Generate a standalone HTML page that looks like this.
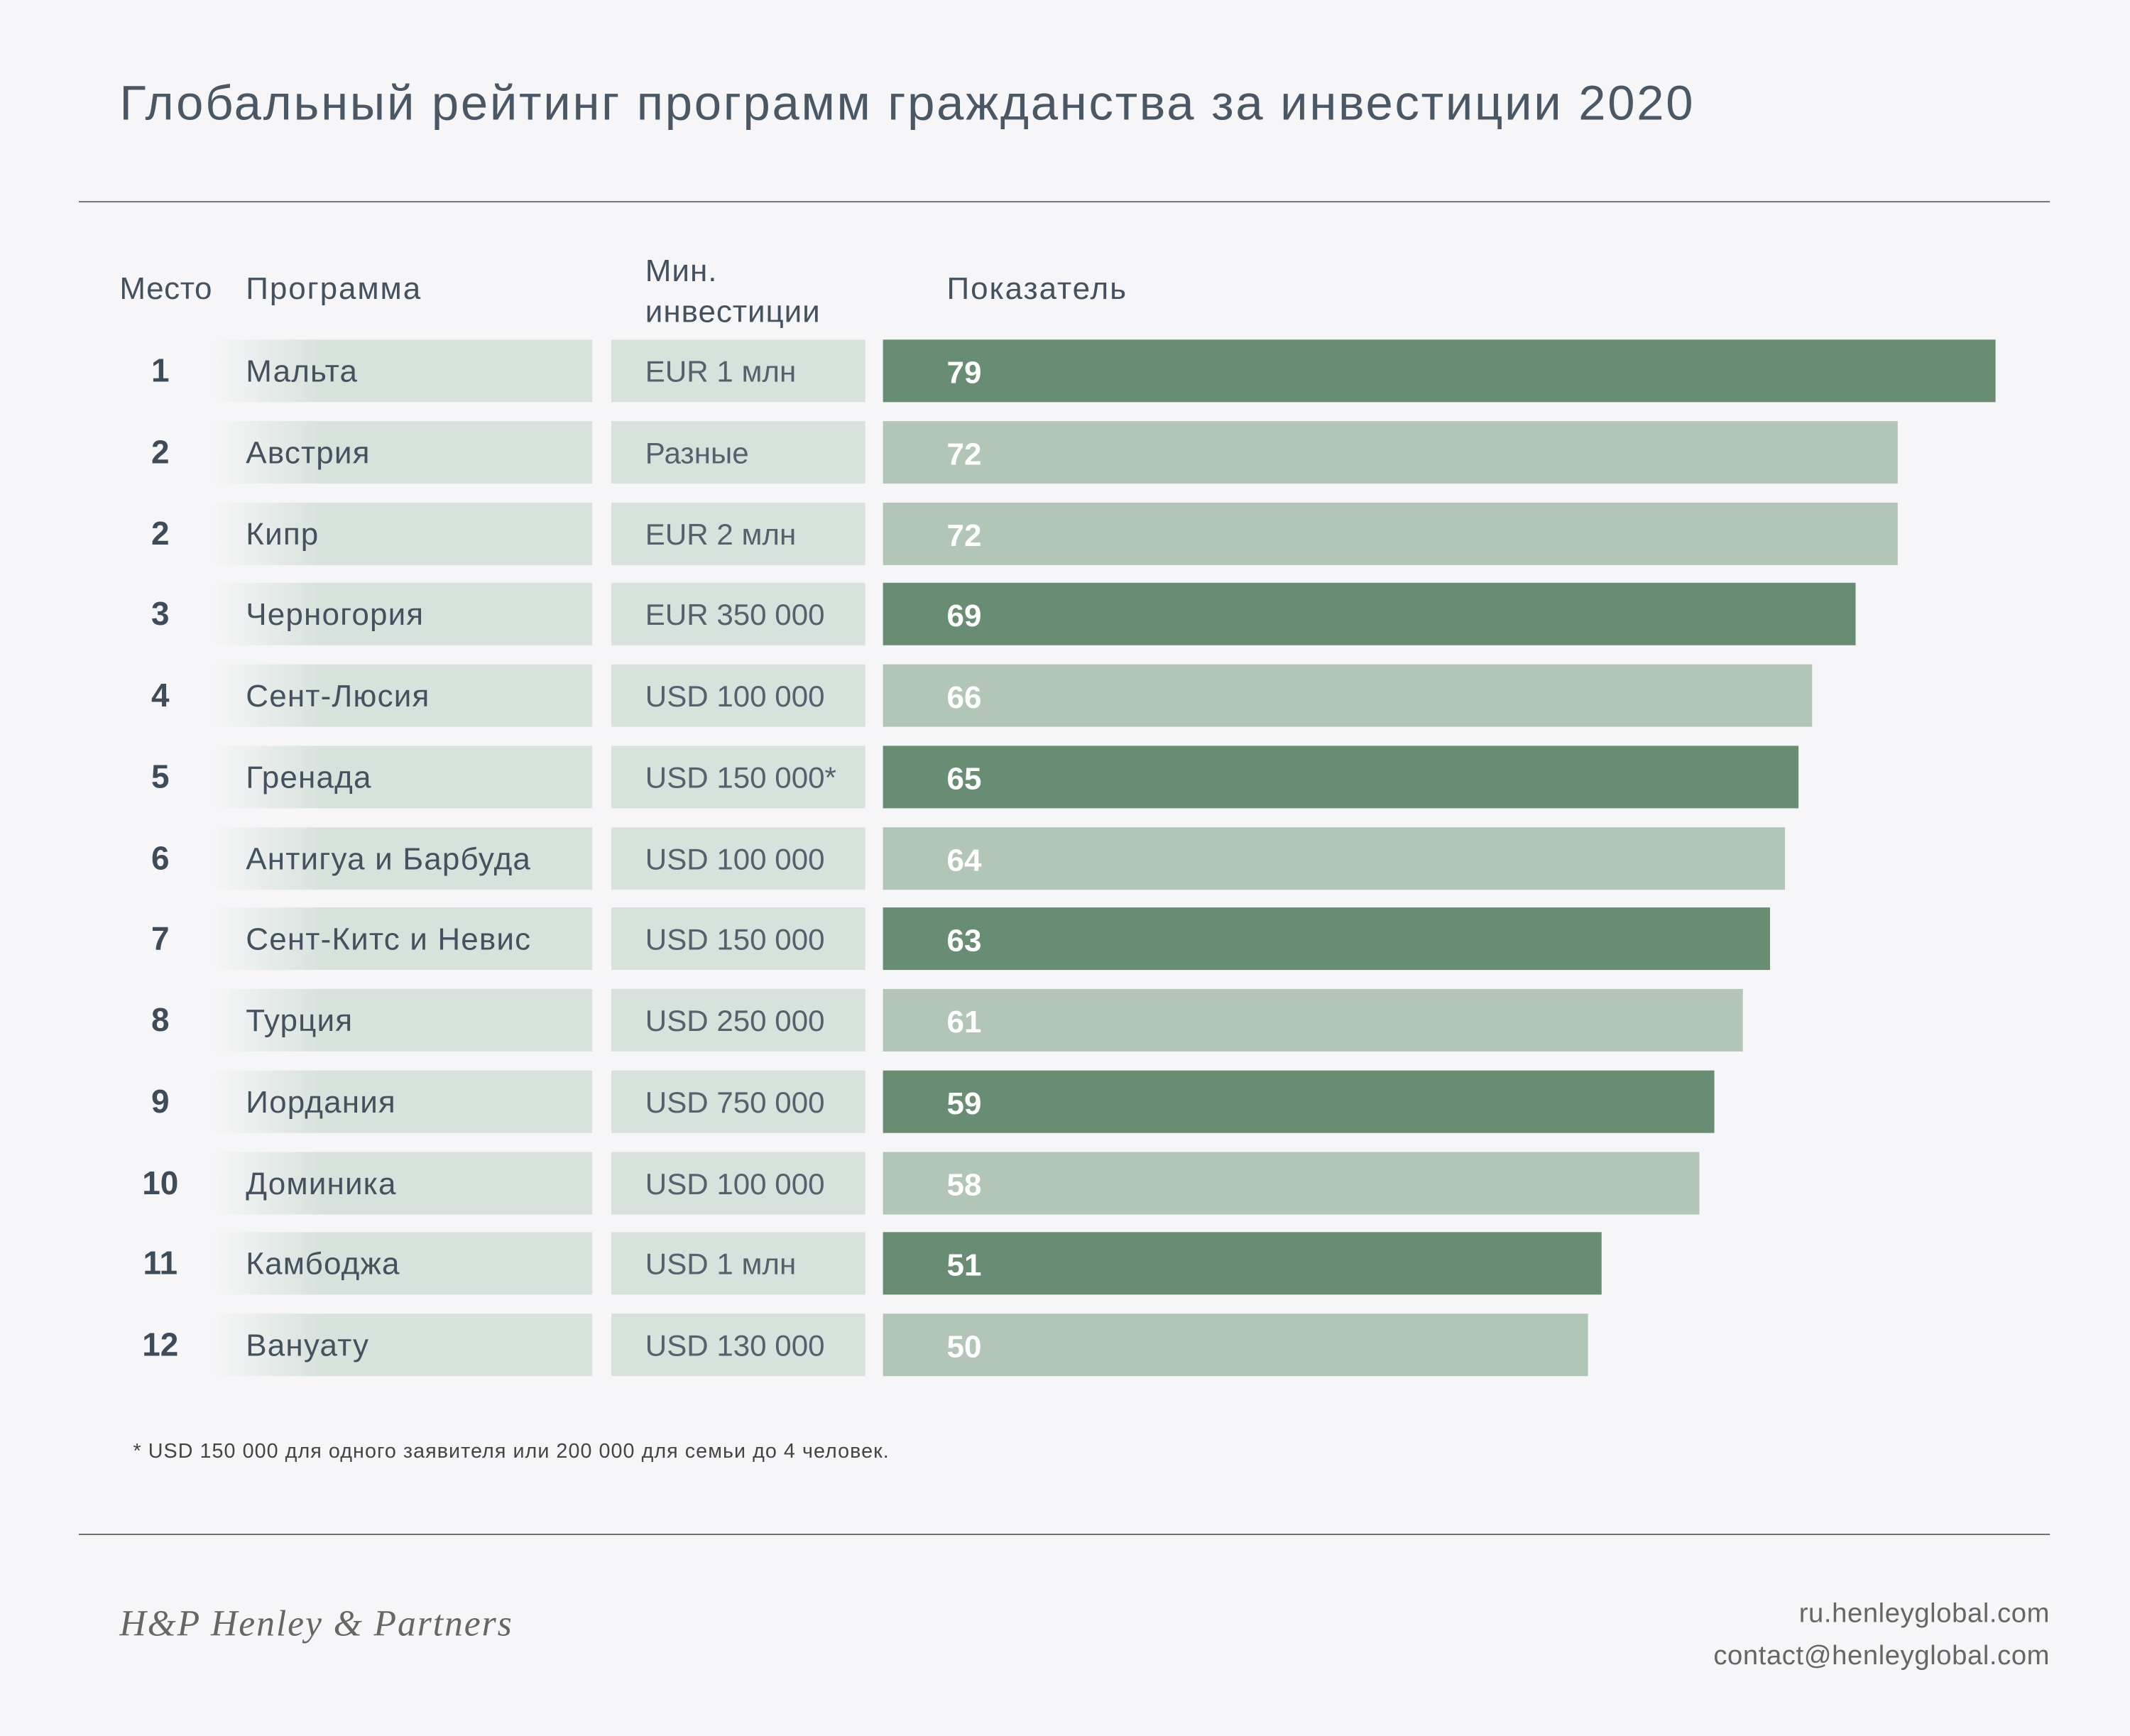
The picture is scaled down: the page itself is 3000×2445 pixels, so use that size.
<!DOCTYPE html>
<html><head><meta charset="utf-8">
<style>
html,body{margin:0;padding:0;background:#f6f6f8;width:3000px;height:2445px;overflow:hidden}
#root{position:absolute;left:0;top:0;width:1568px;height:1278px;transform:scale(1.91327);transform-origin:0 0;font-family:"Liberation Sans",sans-serif;color:#44525f}
.t{position:absolute;white-space:nowrap}
.line{position:absolute;left:58px;width:1451px;height:1px;background:#6b6b6b}
</style></head><body>
<div id="root">
<div class="t" style="left:88px;top:55px;font-size:36px;color:#4a5866;letter-spacing:1.4px">Глобальный рейтинг программ гражданства за инвестиции 2020</div>
<div class="line" style="top:148px"></div>
<div class="t" style="left:88px;top:199px;font-size:23px;letter-spacing:0.3px">Место</div>
<div class="t" style="left:181px;top:199px;font-size:23px;letter-spacing:1px">Программа</div>
<div class="t" style="left:475px;top:184px;font-size:23px;line-height:30px;letter-spacing:0.5px">Мин.<br>инвестиции</div>
<div class="t" style="left:697px;top:199px;font-size:23px;letter-spacing:1px">Показатель</div>
<div id="rows"></div>
<div class="t" style="left:98px;top:1060px;font-size:15px;color:#444;letter-spacing:0.55px">* USD 150 000 для одного заявителя или 200 000 для семьи до 4 человек.</div>
<div class="line" style="top:1129px"></div>
<div class="t" style="left:88px;top:1180px;font-family:'Liberation Serif',serif;font-style:italic;color:#666;font-size:27px;letter-spacing:1px">H&amp;P Henley &amp; Partners</div>
<div class="t" style="right:59px;top:1177px;font-size:20px;color:#666;letter-spacing:0.3px">ru.henleyglobal.com</div>
<div class="t" style="right:59px;top:1208px;font-size:20px;color:#666;letter-spacing:0.3px">contact@henleyglobal.com</div>
</div>
<script>
const ranks=["1","2","2","3","4","5","6","7","8","9","10","11","12"];
const programs=["Мальта","Австрия","Кипр","Черногория","Сент-Люсия","Гренада","Антигуа и Барбуда","Сент-Китс и Невис","Турция","Иордания","Доминика","Камбоджа","Вануату"];
const investments=["EUR 1 млн","Разные","EUR 2 млн","EUR 350 000","USD 100 000","USD 150 000*","USD 100 000","USD 150 000","USD 250 000","USD 750 000","USD 100 000","USD 1 млн","USD 130 000"];
const scores=[79,72,72,69,66,65,64,63,61,59,58,51,50];
const dark=[1,0,0,1,0,1,0,1,0,1,0,1,0];
const rows=document.getElementById('rows');
const x0=650,unit=10.37,y0=250,pitch=59.75,h=46;
function xs(v){return v*unit;}
function ys(i){return y0+i*pitch;}
function mk(name,css,txt){const d=document.createElement('div');d.className='t';d.style.cssText=css;if(txt!==undefined)d.textContent=txt;


rows.appendChild(d);return d;}
scores.forEach((v,i)=>{
 const y=ys(i);
 mk('rank-'+(i+1),`left:88px;width:60px;text-align:center;top:${y+9}px;font-size:24px;font-weight:bold;line-height:30px;color:#3e4c5a`,ranks[i]);
 mk('program-cell-'+(i+1),`left:157px;top:${y}px;width:279px;height:${h}px;background:linear-gradient(90deg,rgba(216,226,221,0) 0%,#d8e2dd 28%,#d8e2dd 100%)`);
 mk('program-name-'+(i+1),`left:181px;top:${y+8}px;font-size:23px;line-height:30px;letter-spacing:0.6px`,programs[i]);
 mk('investment-cell-'+(i+1),`left:450px;top:${y}px;width:187px;height:${h}px;background:#d8e2dd`);
 mk('investment-'+(i+1),`left:475px;top:${y+9}px;font-size:22px;line-height:30px;color:#55626e`,investments[i]);
 mk('score-bar-'+(i+1),`left:${x0}px;top:${y}px;width:${xs(v)}px;height:${h}px;background:${dark[i]?'#688d72':'#b2c6b8'}`);
 mk('score-value-'+(i+1),`left:697px;top:${y+9}px;font-size:23px;font-weight:bold;color:#fff;line-height:30px`,String(v));
});
</script>
</body></html>
